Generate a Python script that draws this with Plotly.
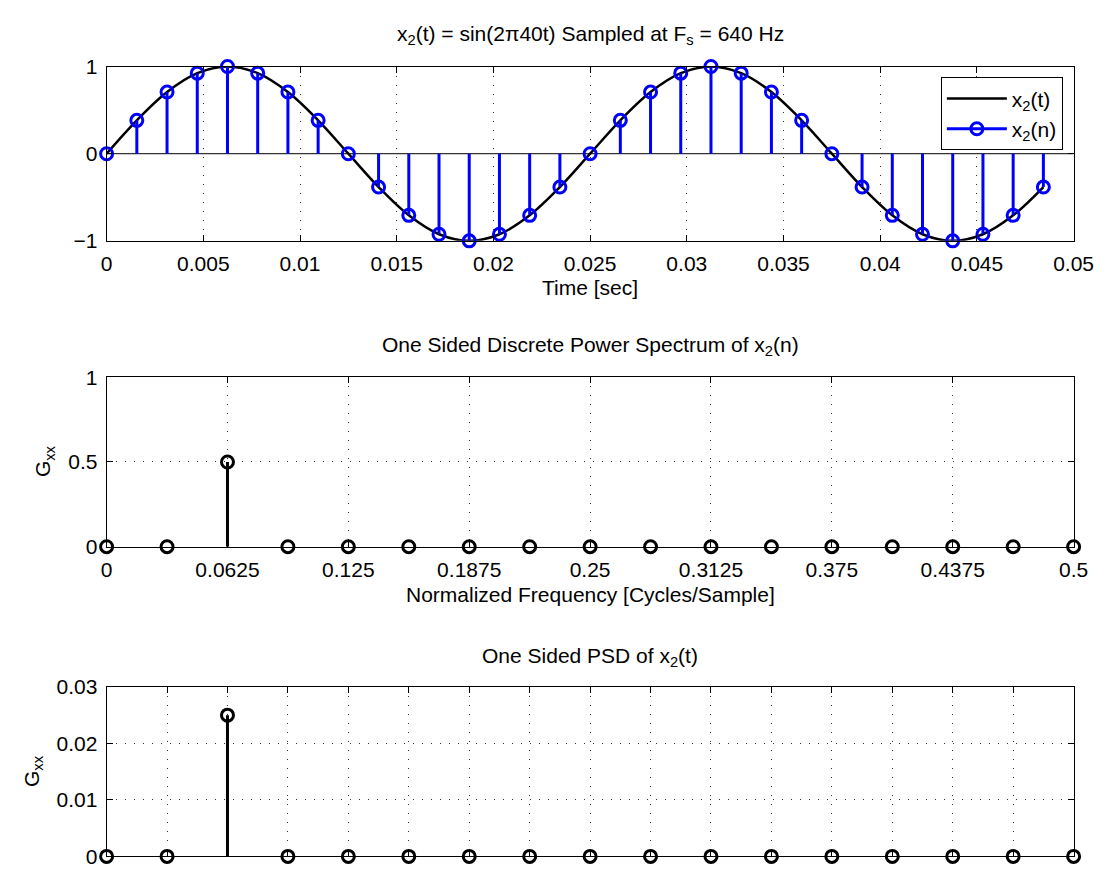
import plotly.graph_objects as go

# ---- data ----
Fs = 640
n_idx = list(range(32))
x2_n = [0.0, 0.3827, 0.7071, 0.9239, 1.0, 0.9239, 0.7071, 0.3827,
        0.0, -0.3827, -0.7071, -0.9239, -1.0, -0.9239, -0.7071, -0.3827,
        0.0, 0.3827, 0.7071, 0.9239, 1.0, 0.9239, 0.7071, 0.3827,
        0.0, -0.3827, -0.7071, -0.9239, -1.0, -0.9239, -0.7071, -0.3827]
t_n = [k / Fs for k in n_idx]

norm_freq = [0, 0.03125, 0.0625, 0.09375, 0.125, 0.15625, 0.1875, 0.21875, 0.25,
             0.28125, 0.3125, 0.34375, 0.375, 0.40625, 0.4375, 0.46875, 0.5]
Gxx_disc = [0, 0, 0.5, 0, 0, 0, 0, 0, 0, 0, 0, 0, 0, 0, 0, 0, 0]

freq_hz = [0, 20, 40, 60, 80, 100, 120, 140, 160, 180, 200, 220, 240, 260, 280, 300, 320]
Gxx_psd = [0, 0, 0.025, 0, 0, 0, 0, 0, 0, 0, 0, 0, 0, 0, 0, 0, 0]

top_xticks = [0, 0.005, 0.01, 0.015, 0.02, 0.025, 0.03, 0.035, 0.04, 0.045, 0.05]
top_xlabels = ["0", "0.005", "0.01", "0.015", "0.02", "0.025", "0.03", "0.035", "0.04", "0.045", "0.05"]
mid_xticks = [0, 0.0625, 0.125, 0.1875, 0.25, 0.3125, 0.375, 0.4375, 0.5]
mid_xlabels = ["0", "0.0625", "0.125", "0.1875", "0.25", "0.3125", "0.375", "0.4375", "0.5"]

BLUE = "#0000ff"
FONT = "Liberation Sans, Arial, sans-serif"
FS = 21

W, H = 1119, 882
def px_x(p):
    return p / W
def px_y(p):
    return 1 - p / H

def stems(xs, ys):
    sx, sy = [], []
    for a, b in zip(xs, ys):
        sx += [a, a, None]
        sy += [0, b, None]
    return sx, sy

MK = 12
fig = go.Figure()

# top subplot
fig.add_trace(go.Scatter(x=t_n, y=x2_n, mode="lines", line=dict(color="black", width=2.5, shape="spline"),
                         name="x<sub>2</sub>(t)", xaxis="x", yaxis="y", showlegend=True))
sx, sy = stems(t_n, x2_n)
fig.add_trace(go.Scatter(x=sx, y=sy, mode="lines", line=dict(color=BLUE, width=3),
                         xaxis="x", yaxis="y", showlegend=False, hoverinfo="skip"))
fig.add_trace(go.Scatter(x=t_n, y=x2_n, mode="markers",
                         marker=dict(symbol="circle-open", size=MK, color=BLUE, line=dict(width=3, color=BLUE)),
                         xaxis="x", yaxis="y", showlegend=False, cliponaxis=False))
fig.add_trace(go.Scatter(x=[None], y=[None], mode="lines+markers", name="x<sub>2</sub>(n)",
                         line=dict(color=BLUE, width=3),
                         marker=dict(symbol="circle-open", size=MK, color=BLUE, line=dict(width=3, color=BLUE)),
                         xaxis="x", yaxis="y"))

# middle subplot
sx, sy = stems(norm_freq, Gxx_disc)
fig.add_trace(go.Scatter(x=sx, y=sy, mode="lines", line=dict(color="black", width=3),
                         xaxis="x2", yaxis="y2", showlegend=False))
fig.add_trace(go.Scatter(x=norm_freq, y=Gxx_disc, mode="markers",
                         marker=dict(symbol="circle-open", size=MK, color="black", line=dict(width=3, color="black")),
                         xaxis="x2", yaxis="y2", showlegend=False, cliponaxis=False))

# bottom subplot
sx, sy = stems(freq_hz, Gxx_psd)
fig.add_trace(go.Scatter(x=sx, y=sy, mode="lines", line=dict(color="black", width=3),
                         xaxis="x3", yaxis="y3", showlegend=False))
fig.add_trace(go.Scatter(x=freq_hz, y=Gxx_psd, mode="markers",
                         marker=dict(symbol="circle-open", size=MK, color="black", line=dict(width=3, color="black")),
                         xaxis="x3", yaxis="y3", showlegend=False, cliponaxis=False))

xdom = [px_x(103), px_x(1093)]
common = dict(showline=True, linecolor="black", linewidth=1, mirror="ticks", ticks="inside", ticklen=6,
              tickcolor="black", showgrid=True, gridcolor="#333", griddash="1px,8px", gridwidth=1,
              zeroline=False, tickfont=dict(family=FONT, size=FS, color="black"), ticklabelstandoff=4)

fig.update_layout(
    width=W, height=H, margin=dict(l=0, r=0, t=0, b=0),
    paper_bgcolor="white", plot_bgcolor="white",
    font=dict(family=FONT, size=FS, color="black"),
    xaxis=dict(domain=xdom, range=[0, 0.05], tickvals=top_xticks, ticktext=top_xlabels, anchor="y", **common),
    yaxis=dict(domain=[px_y(235), px_y(56)], range=[-1, 1], tickvals=[-1, 0, 1], ticktext=["\u22121", "0", "1"],
               anchor="x", **common),
    xaxis2=dict(domain=xdom, range=[0, 0.5], tickvals=mid_xticks, ticktext=mid_xlabels, anchor="y2", **common),
    yaxis2=dict(domain=[px_y(549), px_y(375)], range=[0, 1], tickvals=[0, 0.5, 1], ticktext=["0", "0.5", "1"],
                anchor="x2", **common),
    xaxis3=dict(domain=xdom, range=[0, 320], tickvals=freq_hz, showticklabels=False, anchor="y3", **common),
    yaxis3=dict(domain=[px_y(867), px_y(693)], range=[0, 0.03], tickvals=[0, 0.01, 0.02, 0.03],
                ticktext=["0", "0.01", "0.02", "0.03"], anchor="x3", **common),
    legend=dict(x=px_x(1082), y=px_y(67), xanchor="right", yanchor="top", bgcolor="white",
                bordercolor="black", borderwidth=1, font=dict(family=FONT, size=FS), itemwidth=60,
                tracegroupgap=0),
    showlegend=True,
)

# zero baseline for top stem plot
fig.add_shape(type="line", xref="x", yref="y", x0=0, x1=0.05, y0=0, y1=0,
              line=dict(color="black", width=1), layer="below")

ann = [
    ("x<sub>2</sub>(t) = sin(2\u03c040t) Sampled at F<sub>s</sub> = 640 Hz", 598, 24, 0),
    ("Time [sec]", 598, 283, 0),
    ("One Sided Discrete Power Spectrum of x<sub>2</sub>(n)", 598, 343, 0),
    ("Normalized Frequency [Cycles/Sample]", 598, 598, 0),
    ("One Sided PSD of x<sub>2</sub>(t)", 598, 662, 0),
    ("G<sub>xx</sub>", 39, 461, -90),
    ("G<sub>xx</sub>", 27, 779, -90),
]
for text, x, y, rot in ann:
    fig.add_annotation(text=text, x=px_x(x), y=px_y(y), xref="paper", yref="paper", showarrow=False,
                       xanchor="center", yanchor="middle", textangle=rot,
                       font=dict(family=FONT, size=FS, color="black"))

fig.write_html("out.html")
